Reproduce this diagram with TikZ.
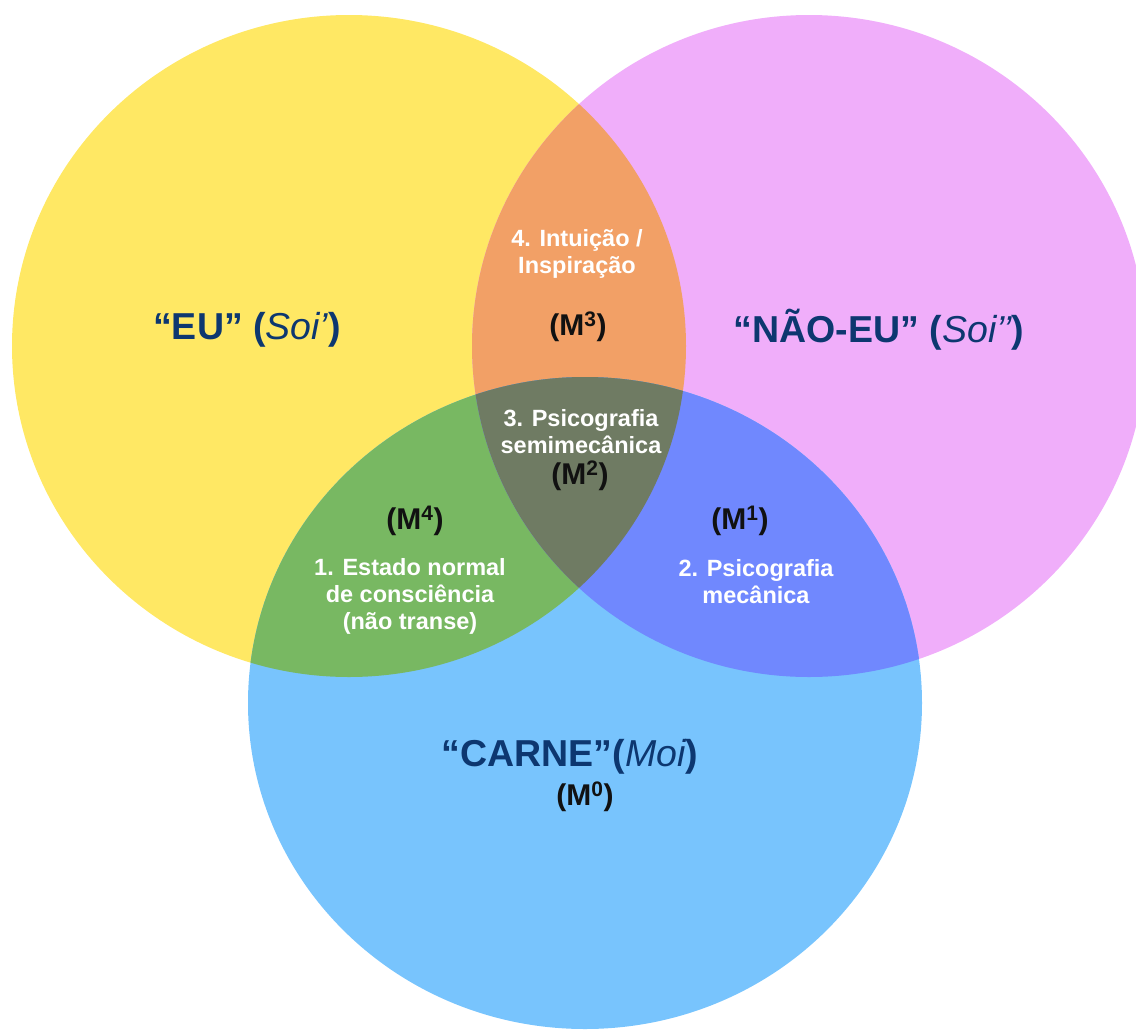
\documentclass[tikz,border=0pt]{standalone}
\usepackage{fontspec}
\setmainfont{Liberation Sans}
\begin{document}
\begin{tikzpicture}[x=1pt,y=-1pt,
  title/.style={text=navy,font=\fontsize{37.5}{42}\selectfont},
  mlabel/.style={text=inkblack,font=\fontsize{30}{34}\selectfont\bfseries},
  region/.style={text=white,align=center,font=\fontsize{23.5}{27}\selectfont\bfseries}]
\definecolor{selfyellow}{HTML}{FFE864}
\definecolor{otherpink}{HTML}{F0AEFA}
\definecolor{fleshblue}{HTML}{78C4FD}
\definecolor{mixorange}{HTML}{F2A066}
\definecolor{mixgreen}{HTML}{78B862}
\definecolor{mixviolet}{HTML}{7088FE}
\definecolor{mixolive}{HTML}{6F7B63}
\definecolor{navy}{HTML}{0D3770}
\definecolor{inkblack}{HTML}{111111}
\useasboundingbox (0,0) rectangle (1136,1029);
\clip (0,0) rectangle (1136,1029);
% the three sets
\def\setEU{(349,346) ellipse [x radius=337, y radius=331]}
\def\setNEU{(809,346) ellipse [x radius=337, y radius=331]}
\def\setCARNE{(585,703) ellipse [x radius=337, y radius=326]}
\fill[selfyellow] \setEU;
\fill[otherpink] \setNEU;
\fill[fleshblue] \setCARNE;
% pairwise overlaps
\begin{scope}\clip \setEU; \fill[mixorange] \setNEU; \end{scope}
\begin{scope}\clip \setEU; \fill[mixgreen] \setCARNE; \end{scope}
\begin{scope}\clip \setNEU; \fill[mixviolet] \setCARNE; \end{scope}
% triple overlap
\begin{scope}\clip \setEU; \clip \setNEU; \fill[mixolive] \setCARNE; \end{scope}
% set titles
\node[title] (eu) at (247,330) {\bfseries “EU” (\mdseries\itshape Soi’\bfseries\upshape)};
\node[title] (neu) at (879,330) {\bfseries “NÃO-EU” (\mdseries\itshape Soi’’\bfseries\upshape)};
\node[title] (carne) at (570,757) {\bfseries “CARNE”(\mdseries\itshape Moi\bfseries\upshape)};
\node[mlabel] (m0) at (585,797) {(M\textsuperscript{0})};
% region labels
\node[region] (r4) at (577,254) {4. Intuição /\\Inspiração};
\node[mlabel] (m3) at (578,327) {(M\textsuperscript{3})};
\node[region] (r3) at (581,432) {3. Psicografia\\semimecânica};
\node[mlabel] (m2) at (580,476) {(M\textsuperscript{2})};
\node[mlabel] (m4) at (415,521) {(M\textsuperscript{4})};
\node[mlabel] (m1) at (740,521) {(M\textsuperscript{1})};
\node[region] (r1) at (410,596) {1. Estado normal\\de consciência\\(não transe)};
\node[region] (r2) at (756,582) {2. Psicografia\\mecânica};
\end{tikzpicture}
\end{document}
